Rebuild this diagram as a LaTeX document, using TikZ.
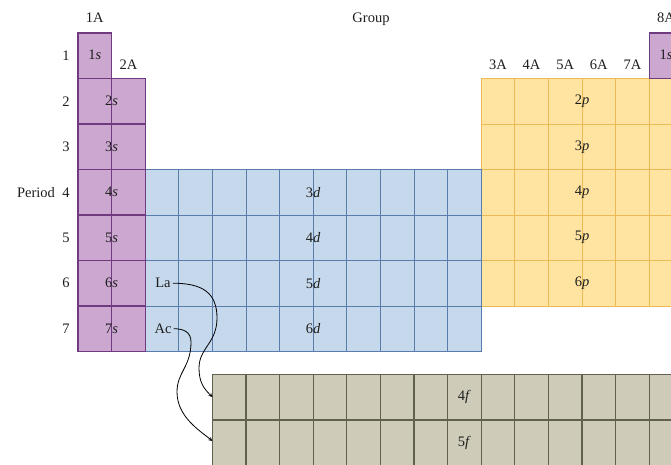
\documentclass[tikz,border=0pt]{standalone}
\usepackage{fontspec}
\setmainfont{Liberation Serif}
\usetikzlibrary{arrows, positioning}
\definecolor{sFill}{RGB}{204,168,208}
\definecolor{sLine}{RGB}{112,58,128}
\definecolor{dFill}{RGB}{197,216,236}
\definecolor{dLine}{RGB}{88,124,172}
\definecolor{pFill}{RGB}{254,228,160}
\definecolor{pLine}{RGB}{236,186,84}
\definecolor{fFill}{RGB}{206,204,184}
\definecolor{fLine}{RGB}{98,96,78}
\definecolor{inkGray}{RGB}{30,30,30}

\begin{document}
\begin{tikzpicture}[
        x=1pt, y=-1pt,
        font=\fontsize{14.5}{16}\selectfont,
        scell/.style={fill=sFill, draw=sLine, line width=1.2pt},
        dcell/.style={fill=dFill, draw=dLine, line width=0.9pt},
        pcell/.style={fill=pFill, draw=pLine, line width=0.9pt},
        fcell/.style={fill=fFill, draw=fLine, line width=1.1pt},
        tag/.style={text=inkGray, inner sep=2pt},
        arrow/.style={->, >=stealth, line width=0.8pt, black}
    ]
        \useasboundingbox (0,0) rectangle (671,464);
        \clip (0,0) rectangle (671,464);

        % blocks
        \foreach \c in {13,...,18} \foreach \r in {2,...,6}
            \draw[pcell] ({78+(\c-1)*33.6},{33+(\r-1)*45.5}) rectangle ++(33.6,45.5);
        \foreach \c in {1,...,14} \foreach \r in {1,2}
            \draw[fcell] ({212.4+(\c-1)*33.6},{374.5+(\r-1)*45.5}) rectangle ++(33.6,45.5);
        \foreach \c in {3,...,12} \foreach \r in {4,...,7}
            \draw[dcell] ({78+(\c-1)*33.6},{33+(\r-1)*45.5}) rectangle ++(33.6,45.5);
        \foreach \c/\r in {1/1,1/2,1/3,1/4,1/5,1/6,1/7,2/2,2/3,2/4,2/5,2/6,2/7,18/1}
            \draw[scell] ({78+(\c-1)*33.6},{33+(\r-1)*45.5}) rectangle ++(33.6,45.5);

        % headings
        \node[tag] (group) at (371,19) {Group};
        \node[tag] (g1A) at (94.8,18) {1A};
        \node[tag] (g2A) at (128.4,65) {2A};
        \node[tag] (g8A) at (666,18) {8A};
        \foreach \g [count=\i from 13] in {3A,4A,5A,6A,7A}
            \node[tag] (g\g) at ({78+(\i-0.5)*33.6},65) {\g};
        \foreach \r in {1,...,7}
            \node[tag] (per\r) at (66,{33+(\r-0.5)*45.5}) {\r};
        \node[tag, left=3pt of per4] (period) {Period};

        % subshell labels
        \node[tag] (s1) at (94.8,55) {1\textit{s}};
        \node[tag] (s8) at (666,55) {1\textit{s}};
        \foreach \r in {2,...,7}
            \node[tag] (s\r) at (111.6,{33+(\r-0.5)*45.5}) {\r\textit{s}};
        \foreach \r/\n in {4/3,5/4,6/5,7/6}
            \node[tag] (d\n) at (313.2,{33+(\r-0.5)*45.5}) {\n\textit{d}};
        \foreach \r in {2,...,6}
            \node[tag] (p\r) at (582,{33+(\r-0.5)*45.5}) {\r\textit{p}};
        \node[tag] (f4) at (464.4,397.2) {4\textit{f}};
        \node[tag] (f5) at (464.4,442.7) {5\textit{f}};

        \node[tag] (la) at (163,283.2) {La};
        \node[tag] (ac) at (163,328.7) {Ac};
        \coordinate (f4in) at (212.4,397);
        \coordinate (f5in) at (212.4,441);

        \draw[arrow] (la.east) .. controls +(30,0) and +(0,-25) .. (217,318)
            .. controls +(0,25) and +(0,-20) .. (199,368)
            .. controls +(0,15) and +(-8,-8) .. (f4in);
        \draw[arrow] (ac.east) .. controls +(10,0) and +(0,-10) .. (191,342)
            .. controls +(0,25) and +(0,-20) .. (177,392)
            .. controls +(0,25) and +(-12,-10) .. (f5in);
    \end{tikzpicture}
\end{document}
